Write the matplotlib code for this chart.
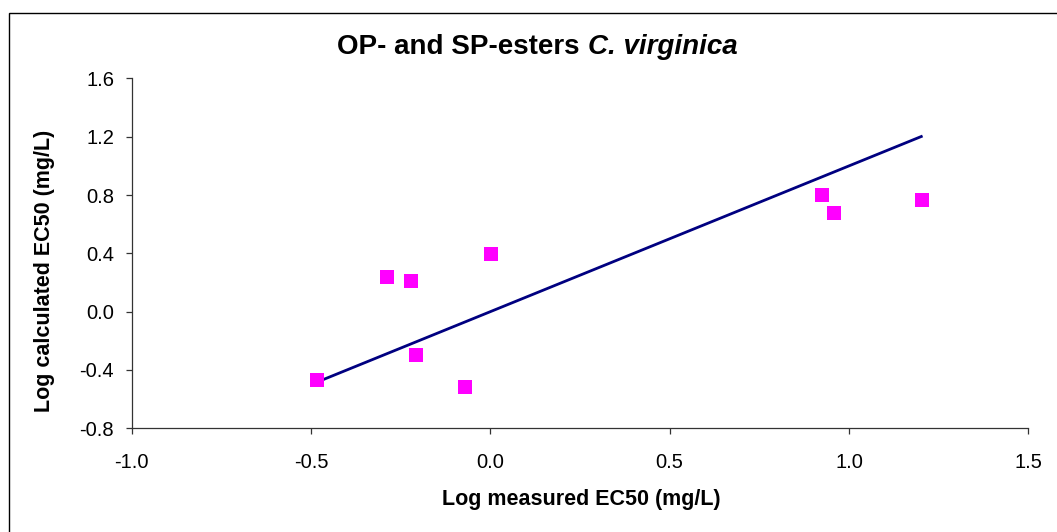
import matplotlib.pyplot as plt
from matplotlib.patches import Rectangle

# measured vs calculated log EC50
log_measured = [-0.482, -0.289, -0.222, -0.208, -0.070, 0.001, 0.925, 0.957, 1.204]
log_calculated = [-0.468, 0.240, 0.211, -0.297, -0.519, 0.396, 0.798, 0.677, 0.768]

# 1:1 line over the measured range
line_x = [-0.48, 1.205]
line_y = [-0.48, 1.205]

xticks = [-1.0, -0.5, 0.0, 0.5, 1.0, 1.5]
yticks = [-0.8, -0.4, 0.0, 0.4, 0.8, 1.2, 1.6]

plt.rcParams['font.family'] = ['Liberation Sans', 'DejaVu Sans']

W, H = 1057, 532
fig = plt.figure(figsize=(W / 100, H / 100), dpi=100)

# chart border (right and bottom edges fall outside the picture)
fig.patches.append(Rectangle((8.5 / W, -0.1), 1.2, 1 - 12.5 / H + 0.1,
                             transform=fig.transFigure, fill=False,
                             edgecolor='black', linewidth=1.0))

ax = fig.add_axes([131.6 / W, 1 - 428.3 / H, (1028.4 - 131.6) / W, (428.3 - 78.4) / H])

ax.plot(line_x, line_y, color='#000080', linewidth=2.0, solid_capstyle='butt', zorder=2)
ax.plot(log_measured, log_calculated, linestyle='none', marker='s', markersize=10.5,
        color='#ff00ff', markeredgewidth=0, zorder=3, clip_on=False)

ax.set_xlim(-1.0, 1.5)
ax.set_ylim(-0.8, 1.6)
ax.set_xticks(xticks)
ax.set_yticks(yticks)
ax.set_xticklabels([f'{v:.1f}' for v in xticks])
ax.set_yticklabels([f'{v:.1f}' for v in yticks])

for side in ['top', 'right']:
    ax.spines[side].set_visible(False)
for side in ['left', 'bottom']:
    ax.spines[side].set_color('#333333')
    ax.spines[side].set_linewidth(0.9)

ax.tick_params(axis='both', direction='out', length=4.5, width=0.9, color='#333333',
               labelsize=14.5)
ax.tick_params(axis='x', pad=13)
ax.tick_params(axis='y', pad=8)

# title: normal bold part + italic species name
fig.text(579.7 / W, 1 - 47 / H, 'OP- and SP-esters', ha='right', va='center',
         fontsize=20, fontweight='bold')
fig.text(587.7 / W, 1 - 47 / H, 'C. virginica', ha='left', va='center',
         fontsize=20, fontweight='bold', fontstyle='italic')

fig.text(581 / W, 1 - 500 / H, 'Log measured EC50 (mg/L)', ha='center', va='center',
         fontsize=15.5, fontweight='bold')
fig.text(45 / W, 1 - 271 / H, 'Log calculated EC50 (mg/L)', ha='center', va='center',
         rotation=90, fontsize=15.5, fontweight='bold')

fig.savefig('out.png', dpi=100)
